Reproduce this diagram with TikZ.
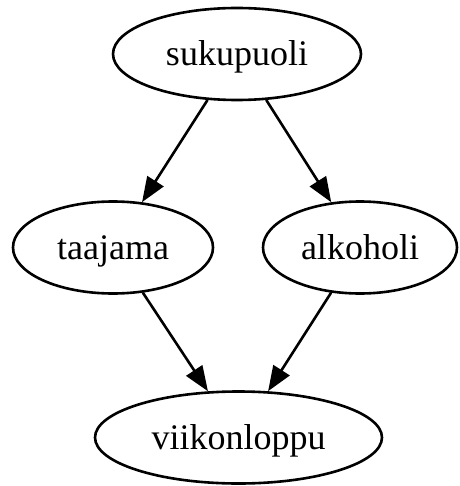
\documentclass[tikz,border=0pt]{standalone}
\usepackage{fontspec}
\setmainfont{Liberation Serif}
\usetikzlibrary{arrows.meta,shapes.geometric}
\begin{document}
\begin{tikzpicture}[x=1pt,y=-1pt,
  var/.style={ellipse,draw,line width=2.6pt,inner sep=0pt,
    minimum height=92pt,text height=27pt,text depth=4pt,
    font=\fontsize{36}{40}\selectfont},
  edge/.style={line width=2.6pt,-{Triangle[length=25pt,width=19pt]}}]
  \useasboundingbox (0,0) rectangle (459,486);
  \node[var,minimum width=248pt] (suku) at (237,54) {sukupuoli};
  \node[var,minimum width=200pt] (taaj) at (113,247.5) {taajama};
  \node[var,minimum width=194pt] (alko) at (360,247.5) {alkoholi};
  \node[var,minimum width=287pt] (viik) at (238.5,437.5) {viikonloppu};
  \draw[edge] (suku) -- (taaj);
  \draw[edge] (suku) -- (alko);
  \draw[edge] (taaj) -- (viik);
  \draw[edge] (alko) -- (viik);
\end{tikzpicture}
\end{document}
